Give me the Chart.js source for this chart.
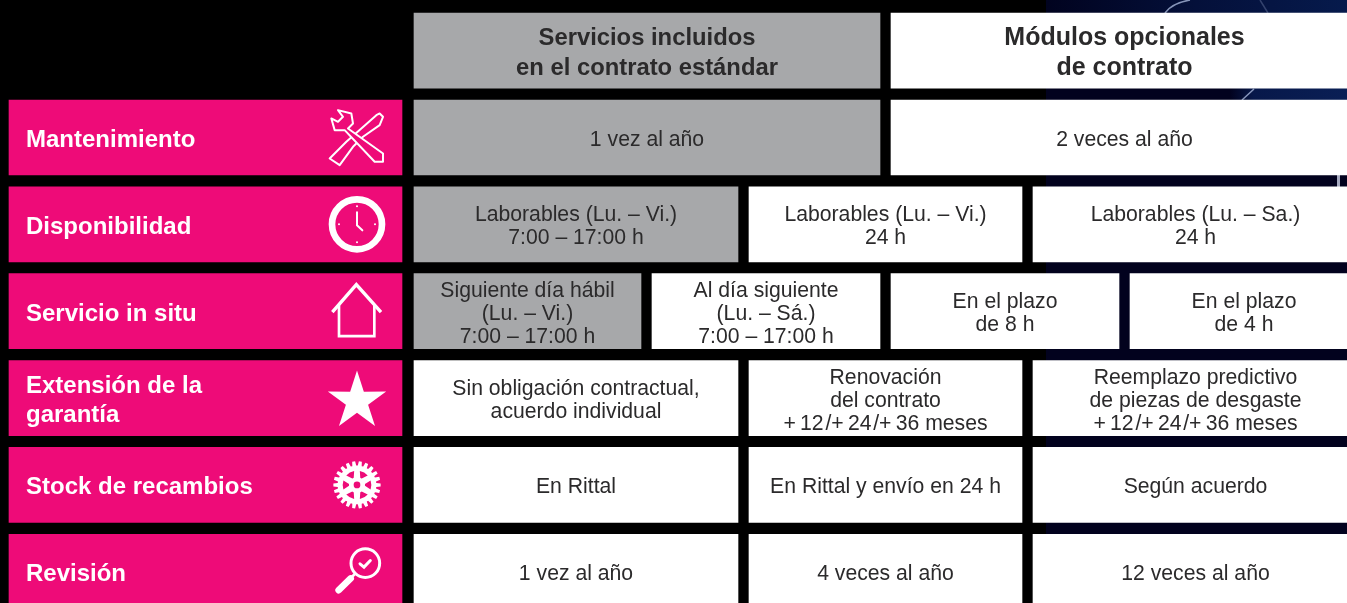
<!DOCTYPE html>
<html lang="es">
<head>
<meta charset="utf-8">
<title>Servicios Rittal</title>
<script src="https://cdn.jsdelivr.net/npm/chart.js@4"></script>
<style>
  html, body { margin: 0; padding: 0; background: #000; overflow: hidden; }
  canvas { display: block; }
</style>
</head>
<body>
<canvas id="serviceChart" width="1347" height="603"></canvas>
<script>
// rows of the table, top to bottom
const rows = ['Cabecera', 'Mantenimiento', 'Disponibilidad', 'Servicio in situ', 'Extensión de la garantía', 'Stock de recambios', 'Revisión'];

// span of each cell on the x axis, one list per slot
// (the right column runs on past the edge of the picture)
const labelSpans = [null, [9, 402], [9, 402], [9, 402], [9, 402], [9, 402], [9, 402]];
const slot1Spans = [[414, 880], [414, 880], [414, 738], [414, 641], [414, 738], [414, 738], [414, 738]];
const slot2Spans = [[891, 1358], [891, 1358], [749, 1022], [652, 880], [749, 1022], [749, 1022], [749, 1022]];
const slot3Spans = [null, null, [1033, 1358], [891, 1119], [1033, 1358], [1033, 1358], [1033, 1358]];
const slot4Spans = [null, null, null, [1130, 1358], null, null, null];

const labelText = [null, ['Mantenimiento'], ['Disponibilidad'], ['Servicio in situ'], ['Extensión de la', 'garantía'], ['Stock de recambios'], ['Revisión']];
const slot1Text = [
  ['Servicios incluidos', 'en el contrato estándar'],
  ['1 vez al año'],
  ['Laborables (Lu. – Vi.)', '7:00 – 17:00 h'],
  ['Siguiente día hábil', '(Lu. – Vi.)', '7:00 – 17:00 h'],
  ['Sin obligación contractual,', 'acuerdo individual'],
  ['En Rittal'],
  ['1 vez al año']
];
const slot2Text = [
  ['Módulos opcionales', 'de contrato'],
  ['2 veces al año'],
  ['Laborables (Lu. – Vi.)', '24 h'],
  ['Al día siguiente', '(Lu. – Sá.)', '7:00 – 17:00 h'],
  ['Renovación', 'del contrato', '+\u200912\u200a/+\u200924\u200a/+\u200936 meses'],
  ['En Rittal y envío en 24 h'],
  ['4 veces al año']
];
const slot3Text = [
  null,
  null,
  ['Laborables (Lu. – Sa.)', '24 h'],
  ['En el plazo', 'de 8 h'],
  ['Reemplazo predictivo', 'de piezas de desgaste', '+\u200912\u200a/+\u200924\u200a/+\u200936 meses'],
  ['Según acuerdo'],
  ['12 veces al año']
];
const slot4Text = [null, null, null, ['En el plazo', 'de 4 h'], null, null, null];

const PINK = '#ee0b78';
const GREY = '#a7a8aa';
const WHITE = '#ffffff';
const INK = '#2b2a2b';
const FONT = '"Liberation Sans", Arial, sans-serif';

const slotTexts = [labelText, slot1Text, slot2Text, slot3Text, slot4Text];

function lineHeight(row, slot) {
  if (row === 0) return 30;
  return slot === 0 ? 29 : 23;
}

function fontFor(row, slot) {
  if (row === 0) return 'bold ' + (slot === 1 ? 23.8 : 25) + 'px ' + FONT;
  if (slot === 0) return 'bold 24px ' + FONT;
  return '21.2px ' + FONT;
}

// navy photo behind the right side of the table
const backdrop = {
  id: 'backdrop',
  beforeDatasetsDraw(chart) {
    const { ctx, width, height } = chart;
    const x = chart.scales.x.getPixelForValue(1046);
    ctx.save();
    ctx.fillStyle = '#000';
    ctx.fillRect(0, 0, width, height);
    ctx.fillStyle = '#02021e';
    ctx.fillRect(x, 0, width - x, height);

    let g = ctx.createLinearGradient(x, 0, width, 0);
    g.addColorStop(0, '#01031f');
    g.addColorStop(0.5, '#04103a');
    g.addColorStop(1, '#061a4c');
    ctx.fillStyle = g;
    ctx.fillRect(x, 0, width - x, 13);

    g = ctx.createLinearGradient(1230, 0, width, 0);
    g.addColorStop(0, '#02021e');
    g.addColorStop(0.2, '#07184a');
    g.addColorStop(1, '#0a1f55');
    ctx.fillStyle = g;
    ctx.fillRect(1230, 88, width - 1230, 12);

    ctx.strokeStyle = 'rgba(190,205,240,0.7)';
    ctx.lineWidth = 1.5;
    ctx.beginPath();
    ctx.moveTo(1165, 13);
    ctx.quadraticCurveTo(1172, 3, 1190, 0);
    ctx.moveTo(1242, 100);
    ctx.lineTo(1254, 89);
    ctx.stroke();
    ctx.strokeStyle = 'rgba(190,205,240,0.25)';
    ctx.beginPath();
    ctx.moveTo(1260, 0);
    ctx.lineTo(1268, 13);
    ctx.stroke();
    ctx.fillStyle = 'rgba(220,225,245,0.75)';
    ctx.fillRect(1337, 175, 3, 12);
    ctx.restore();
  }
};

function wrenchIcon(ctx) {
  ctx.lineWidth = 6;
  ctx.lineJoin = 'round';
  ctx.fillStyle = PINK;
  // screwdriver
  ctx.beginPath();
  ctx.moveTo(68, -72); ctx.lineTo(78, -62); ctx.lineTo(68, -37); ctx.lineTo(18, -2);
  ctx.lineTo(-12, 28); ctx.lineTo(-52, 83); ctx.lineTo(-82, 63); ctx.lineTo(-32, 13);
  ctx.lineTo(13, -27); ctx.lineTo(58, -67);
  ctx.closePath();
  ctx.stroke();
  // wrench on top
  ctx.beginPath();
  ctx.moveTo(-57, -82); ctx.lineTo(-17, -72); ctx.lineTo(-12, -42); ctx.lineTo(-27, -27);
  ctx.lineTo(78, 48); ctx.lineTo(78, 73); ctx.lineTo(53, 73); ctx.lineTo(-37, -22);
  ctx.lineTo(-67, -22); ctx.lineTo(-77, -57); ctx.lineTo(-57, -47); ctx.lineTo(-42, -62);
  ctx.closePath();
  ctx.fill();
  ctx.stroke();
}

function clockIcon(ctx) {
  ctx.fillStyle = WHITE;
  ctx.lineCap = 'round';
  ctx.lineWidth = 20;
  ctx.beginPath();
  ctx.arc(0, 0, 75, 0, Math.PI * 2);
  ctx.stroke();
  ctx.lineWidth = 6;
  ctx.beginPath();
  ctx.moveTo(0, -36); ctx.lineTo(0, 3); ctx.lineTo(16, 18);
  ctx.stroke();
  [[0, -54], [54, 0], [0, 54], [-54, 0]].forEach(p => {
    ctx.beginPath();
    ctx.arc(p[0], p[1], 3, 0, Math.PI * 2);
    ctx.fill();
  });
}

function houseIcon(ctx) {
  ctx.lineWidth = 10;
  ctx.beginPath();
  ctx.moveTo(-74, 3); ctx.lineTo(-2, -80); ctx.lineTo(72, 3);
  ctx.stroke();
  ctx.lineWidth = 8;
  ctx.beginPath();
  ctx.moveTo(-54, -18); ctx.lineTo(-54, 75); ctx.lineTo(52, 75); ctx.lineTo(52, -18);
  ctx.stroke();
}

function starIcon(ctx) {
  ctx.fillStyle = WHITE;
  ctx.translate(0, 9);
  ctx.beginPath();
  for (let i = 0; i < 10; i++) {
    const r = i % 2 ? 35 : 92;
    const a = -Math.PI / 2 + i * Math.PI / 5;
    ctx.lineTo(r * Math.cos(a), r * Math.sin(a));
  }
  ctx.closePath();
  ctx.fill();
}

function gearIcon(ctx) {
  ctx.fillStyle = WHITE;
  ctx.beginPath();
  const teeth = 22;
  for (let i = 0; i < teeth; i++) {
    const a = i * 2 * Math.PI / teeth;
    const w = Math.PI / teeth * 0.55;
    ctx.lineTo(58 * Math.cos(a - w * 1.3), 58 * Math.sin(a - w * 1.3));
    ctx.lineTo(71 * Math.cos(a - w * 0.8), 71 * Math.sin(a - w * 0.8));
    ctx.lineTo(71 * Math.cos(a + w * 0.8), 71 * Math.sin(a + w * 0.8));
    ctx.lineTo(58 * Math.cos(a + w * 1.3), 58 * Math.sin(a + w * 1.3));
  }
  ctx.closePath();
  ctx.fill();
  ctx.fillStyle = PINK;
  for (let i = 0; i < 6; i++) {
    const a = Math.PI / 2 + i * Math.PI / 3;
    ctx.beginPath();
    ctx.arc(0, 0, 43, a + 0.2, a + Math.PI / 3 - 0.2);
    ctx.arc(0, 0, 24, a + Math.PI / 3 - 0.42, a + 0.42, true);
    ctx.closePath();
    ctx.fill();
  }
  ctx.beginPath();
  ctx.arc(0, 0, 10, 0, Math.PI * 2);
  ctx.fill();
}

function lensIcon(ctx) {
  ctx.translate(25, -26);
  ctx.lineWidth = 9;
  ctx.beginPath();
  ctx.arc(0, 0, 43, 0, Math.PI * 2);
  ctx.stroke();
  ctx.lineCap = 'round';
  ctx.lineWidth = 9;
  ctx.beginPath();
  ctx.moveTo(-16, 2); ctx.lineTo(-4, 12); ctx.lineTo(15, -8);
  ctx.stroke();
  ctx.lineWidth = 8;
  ctx.lineCap = 'butt';
  ctx.beginPath();
  ctx.moveTo(-30, 31); ctx.lineTo(-42, 43);
  ctx.stroke();
  ctx.lineCap = 'round';
  ctx.lineWidth = 20;
  ctx.beginPath();
  ctx.moveTo(-44, 46); ctx.lineTo(-80, 81);
  ctx.stroke();
}

const iconByRow = [null, wrenchIcon, clockIcon, houseIcon, starIcon, gearIcon, lensIcon];

// the icons are drawn at a third of their path size, on the pink label bars
const rowIcons = {
  id: 'rowIcons',
  afterDatasetsDraw(chart) {
    const { ctx } = chart;
    const x = chart.scales.x.getPixelForValue(357);
    chart.getDatasetMeta(0).data.forEach((bar, row) => {
      if (!iconByRow[row]) return;
      ctx.save();
      ctx.translate(x, bar.y);
      ctx.scale(1 / 3, 1 / 3);
      ctx.strokeStyle = WHITE;
      iconByRow[row](ctx);
      ctx.restore();
    });
  }
};

const cellLabels = {
  id: 'cellLabels',
  afterDatasetsDraw(chart) {
    const { ctx } = chart;
    ctx.save();
    ctx.textBaseline = 'middle';
    slotTexts.forEach((texts, slot) => {
      const meta = chart.getDatasetMeta(slot);
      texts.forEach((lines, row) => {
        if (!lines) return;
        const bar = meta.data[row];
        const props = bar.getProps(['x', 'y', 'base'], true);
        const lh = lineHeight(row, slot);
        ctx.font = fontFor(row, slot);
        ctx.fillStyle = slot === 0 ? WHITE : INK;
        ctx.textAlign = slot === 0 ? 'left' : 'center';
        const tx = slot === 0 ? props.base + 17 : (props.x + props.base) / 2;
        let ty = props.y + 2.7 - (lines.length - 1) * lh / 2;
        lines.forEach(line => {
          ctx.fillText(line, tx, ty);
          ty += lh;
        });
      });
    });
    ctx.restore();
  }
};

const slotColors = [
  rows.map(() => PINK),
  rows.map((r, i) => (i < 4 ? GREY : WHITE)),
  rows.map(() => WHITE),
  rows.map(() => WHITE),
  rows.map(() => WHITE)
];

new Chart(document.getElementById('serviceChart'), {
  type: 'bar',
  data: {
    labels: rows,
    datasets: [labelSpans, slot1Spans, slot2Spans, slot3Spans, slot4Spans].map((spans, i) => ({
      data: spans,
      backgroundColor: slotColors[i],
      borderWidth: 0,
      barThickness: 75,
      grouped: false,
      clip: false
    }))
  },
  options: {
    indexAxis: 'y',
    responsive: false,
    animation: false,
    layout: { padding: { top: 50.6, bottom: 31.2, left: 0, right: 0 } },
    plugins: { legend: { display: false }, tooltip: { enabled: false } },
    scales: {
      x: { type: 'linear', min: 0, max: 1347, display: false },
      y: { type: 'category', offset: false, display: false }
    }
  },
  plugins: [backdrop, rowIcons, cellLabels]
});
</script>
</body>
</html>
